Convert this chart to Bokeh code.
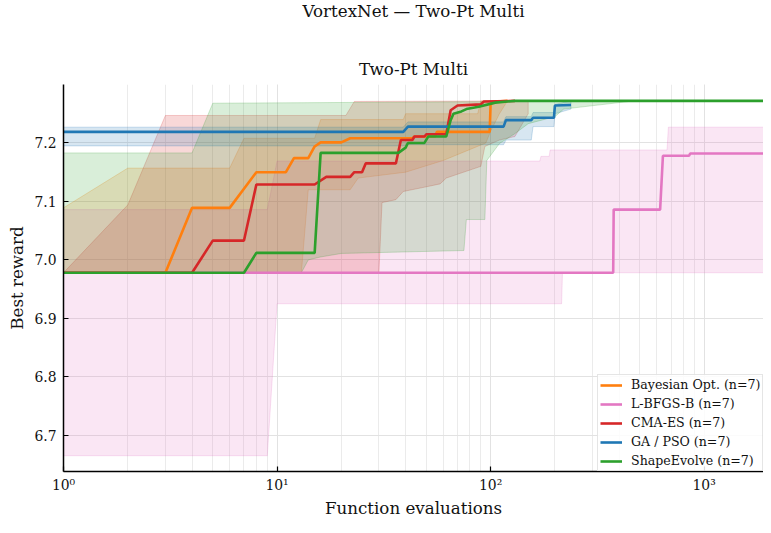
from bokeh.plotting import figure
from bokeh.models import (Title, Range1d, Legend, LegendItem, CustomJSTickFormatter,
                          SingleIntervalTicker, LogTicker, PrintfTickFormatter)
from bokeh.embed import file_html
from bokeh.resources import INLINE

# ---------------- data ----------------
METHODS = ["Bayesian Opt. (n=7)", "L-BFGS-B (n=7)", "CMA-ES (n=7)", "GA / PSO (n=7)", "ShapeEvolve (n=7)"]
COLORS = ["#ff7f0e", "#e377c2", "#d62728", "#1f77b4", "#2ca02c"]

# median curves
bo_x = [1, 3, 4, 6, 8, 11, 12, 14, 15, 16, 20, 22, 43, 44, 55, 56, 99, 100, 107, 120]
bo_y = [6.978, 6.978, 7.089, 7.089, 7.150, 7.150, 7.174, 7.174, 7.194, 7.201, 7.201, 7.208,
        7.208, 7.211, 7.211, 7.219, 7.219, 7.267, 7.271, 7.272]
lb_x = [1, 375, 377, 622, 641, 850, 860, 2000]
lb_y = [6.978, 6.978, 7.086, 7.086, 7.178, 7.178, 7.182, 7.182]
cm_x = [1, 4, 5, 7, 8, 15, 17, 22, 23, 25, 26, 36, 38, 43, 44, 49, 50, 62, 65, 70, 90, 93, 130]
cm_y = [6.978, 6.978, 7.033, 7.033, 7.129, 7.129, 7.142, 7.142, 7.150, 7.150, 7.165, 7.165,
        7.205, 7.205, 7.211, 7.211, 7.215, 7.215, 7.256, 7.264, 7.266, 7.271, 7.272]
ga_x = [1, 39, 41, 115, 118, 155, 158, 198, 200, 238]
ga_y = [7.219, 7.219, 7.228, 7.228, 7.239, 7.239, 7.243, 7.243, 7.264, 7.265]
se_x = [1, 7, 8, 15, 16, 37, 40, 41, 49, 51, 62, 65, 67, 73, 77, 88, 105, 130, 2000]
se_y = [6.978, 6.978, 7.012, 7.012, 7.183, 7.183, 7.192, 7.200, 7.200, 7.211, 7.211, 7.239,
        7.250, 7.254, 7.258, 7.262, 7.269, 7.272, 7.272]

# spread bands (upper / lower edges)
bo_hi_x = [1, 2, 6, 7, 15, 16, 39, 40, 87, 90, 120]
bo_hi_y = [7.089, 7.157, 7.157, 7.208, 7.208, 7.240, 7.240, 7.250, 7.250, 7.272, 7.272]
bo_lo_x = [1, 13, 14, 22, 24, 40, 60, 95, 100, 110, 120]
bo_lo_y = [6.978, 6.978, 7.120, 7.120, 7.140, 7.150, 7.170, 7.200, 7.220, 7.250, 7.272]

lb_hi_x = [1, 9, 10, 170, 172, 188, 190, 670, 680, 2000]
lb_hi_y = [7.086, 7.086, 7.169, 7.169, 7.177, 7.177, 7.188, 7.188, 7.227, 7.227]
lb_lo_x = [1, 9, 10, 215, 217, 2000]
lb_lo_y = [6.665, 6.665, 6.925, 6.925, 6.978, 6.978]

cm_hi_x = [1, 2, 3, 21, 23, 150]
cm_hi_y = [6.978, 7.094, 7.247, 7.247, 7.271, 7.272]
cm_lo_x = [1, 30, 31, 36, 39, 50, 58, 62, 90, 94, 110, 130, 150]
cm_lo_y = [6.978, 6.978, 7.098, 7.103, 7.117, 7.125, 7.130, 7.140, 7.160, 7.194, 7.205, 7.211, 7.250]

ga_hi_x = [1, 39, 41, 115, 118, 155, 158, 198, 200, 238]
ga_hi_y = [7.227, 7.227, 7.236, 7.236, 7.245, 7.245, 7.252, 7.252, 7.266, 7.272]
ga_lo_x = [1, 39, 41, 115, 118, 155, 158, 198, 200, 238]
ga_lo_y = [7.195, 7.195, 7.197, 7.197, 7.205, 7.205, 7.228, 7.228, 7.250, 7.258]

se_hi_x = [1, 4, 5, 470]
se_hi_y = [7.183, 7.183, 7.268, 7.272]
se_lo_x = [1, 13, 14, 16, 20, 75, 77, 94, 96, 110, 130, 150, 200, 220, 470]
se_lo_y = [6.978, 6.978, 7.000, 7.005, 7.011, 7.016, 7.069, 7.069, 7.170, 7.199, 7.216, 7.233,
           7.245, 7.258, 7.272]

X_RANGE = (1, 1896)
Y_RANGE = (6.638, 7.300)
Y_TICK_STEP = 0.1

# ---------------- figure ----------------
FONT = "DejaVu Serif"
p = figure(width=763, height=517, x_axis_type="log",
           x_range=Range1d(*X_RANGE), y_range=Range1d(*Y_RANGE),
           output_backend="svg", toolbar_location=None,
           min_border_left=0, min_border_right=0, min_border_top=0, min_border_bottom=0)
p.background_fill_color = "white"
p.border_fill_color = "white"
p.outline_line_color = None

def styled_title(text, standoff, **kw):
    return Title(text=text, align="center", text_font=FONT, text_font_size="16.7px",
                 text_font_style="normal", text_color="#111111", standoff=standoff, **kw)

# outer (figure) title, at the very top
p.title.text = "VortexNet \u2014 Two-Pt Multi"
p.title.align = "center"
p.title.text_font = FONT
p.title.text_font_size = "16.7px"
p.title.text_font_style = "normal"
p.title.text_color = "#111111"
p.title.standoff = 0
p.title.vertical_align = "top"
# axes title (closest to the frame), then a blank spacer between the two titles
p.add_layout(styled_title("Two-Pt Multi", 11), "above")
p.add_layout(styled_title(" ", 7), "above")
# axis labels as titles, so that their distance from the frame is controlled
p.add_layout(styled_title("Function evaluations", 0), "below")
p.add_layout(styled_title("Best reward", 9), "left")

bands = [(bo_hi_x, bo_hi_y, bo_lo_x, bo_lo_y), (lb_hi_x, lb_hi_y, lb_lo_x, lb_lo_y),
         (cm_hi_x, cm_hi_y, cm_lo_x, cm_lo_y), (ga_hi_x, ga_hi_y, ga_lo_x, ga_lo_y),
         (se_hi_x, se_hi_y, se_lo_x, se_lo_y)]
meds = [(bo_x, bo_y), (lb_x, lb_y), (cm_x, cm_y), (ga_x, ga_y), (se_x, se_y)]

for (hx, hy, lx, ly), c in zip(bands, COLORS):
    px = list(hx) + list(lx)[::-1]
    py = list(hy) + list(ly)[::-1]
    p.patch(px, py, fill_color=c, fill_alpha=0.18, line_color=c, line_alpha=0.22, line_width=1)

items = []
for (mx, my), c, name in zip(meds, COLORS, METHODS):
    r = p.line(mx, my, line_color=c, line_width=2.6)
    items.append(LegendItem(label=name, renderers=[r]))

# axes
p.xaxis.ticker = LogTicker(num_minor_ticks=10)
p.xaxis.formatter = CustomJSTickFormatter(code="""
const e = Math.round(Math.log10(tick));
const sup = {'0':'\u2070','1':'\u00b9','2':'\u00b2','3':'\u00b3','4':'\u2074','-':'\u207b'};
return '10' + String(e).split('').map(c => sup[c]).join('');
""")
p.yaxis.ticker = SingleIntervalTicker(interval=Y_TICK_STEP, num_minor_ticks=0)
p.yaxis.formatter = PrintfTickFormatter(format="%.1f")

for ax in (p.xaxis[0], p.yaxis[0]):
    ax.major_label_text_font = FONT
    ax.major_label_text_font_size = "13.9px"
    ax.major_label_text_color = "#111111"
    ax.axis_line_color = "black"
    ax.axis_line_width = 1.5
    ax.major_tick_in = 5
    ax.major_tick_out = 0
    ax.major_tick_line_color = "black"
    ax.major_tick_line_width = 1.2
    ax.minor_tick_in = 0
    ax.minor_tick_out = 0
p.xaxis.major_label_standoff = 5
p.yaxis.major_label_standoff = 7

p.xgrid.grid_line_color = "#e2e2e2"
p.xgrid.minor_grid_line_color = "#ebebeb"
p.ygrid.grid_line_color = "#e2e2e2"

legend = Legend(items=items, location=(534, 0))
legend.label_text_font = FONT
legend.label_text_font_size = "12.6px"
legend.label_text_color = "#111111"
legend.glyph_width = 22
legend.glyph_height = 14
legend.label_height = 14
legend.label_standoff = 9
legend.spacing = 4
legend.padding = 2
legend.margin = 0
legend.border_line_color = "#cccccc"
legend.border_line_width = 1
legend.background_fill_alpha = 0.85
p.add_layout(legend)

open("out.html", "w").write(file_html(p, INLINE))
